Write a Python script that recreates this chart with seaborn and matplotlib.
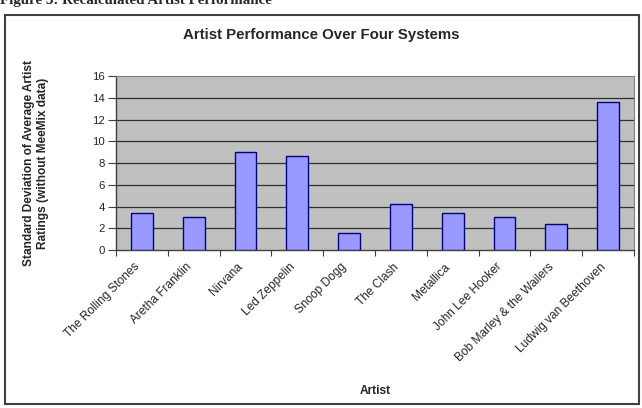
import matplotlib
matplotlib.use("Agg")
import matplotlib.pyplot as plt
from matplotlib.patches import Rectangle
import seaborn as sns
import pandas as pd

artists = ["The Rolling Stones", "Aretha Franklin", "Nirvana", "Led Zeppelin",
           "Snoop Dogg", "The Clash", "Metallica", "John Lee Hooker",
           "Bob Marley & the Wailers", "Ludwig van Beethoven"]
std_dev = [3.43, 3.06, 8.97, 8.6, 1.59, 4.22, 3.43, 3.0, 2.36, 13.6]
y_ticks = [0, 2, 4, 6, 8, 10, 12, 14, 16]

df = pd.DataFrame({"Artist": artists, "Std": std_dev})

sns.set_style("white")
plt.rcParams["font.family"] = ["Liberation Sans", "DejaVu Sans"]

fig = plt.figure(figsize=(6.42, 4.08), dpi=100)
ax = fig.add_axes([116/642, 1-250/408, (634-116)/642, (250-76)/408])
ax.set_facecolor("#C0C0C0")

sns.barplot(data=df, x="Artist", y="Std", ax=ax, color="#9999FF",
            saturation=1, width=0.42, edgecolor="#000080", linewidth=1.0,
            zorder=3)

ax.set_ylim(0, 16)
ax.set_xlim(-0.5, len(artists) - 0.5)
ax.set_yticks(y_ticks)
ax.set_yticklabels([str(t) for t in y_ticks], fontsize=8.2)
for t in y_ticks[1:-1]:
    ax.axhline(t, color="#303030", lw=0.9, zorder=1)

for side in ["top", "right"]:
    ax.spines[side].set_color("#808080")
    ax.spines[side].set_linewidth(0.8)
for side in ["left", "bottom"]:
    ax.spines[side].set_color("#404040")
    ax.spines[side].set_linewidth(1.0)

ax.tick_params(axis="y", which="major", direction="out", length=6,
               width=0.8, color="#404040", pad=2, left=True)
ax.set_xticks(range(len(artists)))
ax.set_xticks([i - 0.5 for i in range(len(artists) + 1)], minor=True)
ax.tick_params(axis="x", which="major", length=0, pad=14)
ax.tick_params(axis="x", which="minor", direction="out", length=4,
               width=0.8, color="#404040", bottom=True)
ax.set_xticklabels(artists, rotation=45, ha="right", va="bottom",
                   rotation_mode="anchor", fontsize=8.6)

ax.set_ylabel("Standard Deviation of Average Artist\nRatings (without MeeMix data)",
              fontsize=8.6, fontweight="bold", linespacing=1.25)
ax.yaxis.set_label_coords(-(116 - 49) / 518, 0.5)
ax.set_xlabel("Artist", fontsize=8.6, fontweight="bold")
ax.xaxis.set_label_coords(0.5, (250 - 385) / 174)

fig.text(0.5, 1 - 35/408, "Artist Performance Over Four Systems",
         ha="center", va="center", fontsize=10.8, fontweight="bold")

fig.text(0.0, 1 - 4/408, "Figure 3: Recalculated Artist Performance",
         ha="left", va="baseline", fontsize=10.8, fontweight="bold",
         family=["Liberation Serif", "DejaVu Serif"])

fig.patches.append(Rectangle((5/642, 4/408), (639-5)/642, (404-15)/408,
                             transform=fig.transFigure, fill=False,
                             edgecolor="#404040", linewidth=1.5))

fig.savefig("out.png", dpi=100)
